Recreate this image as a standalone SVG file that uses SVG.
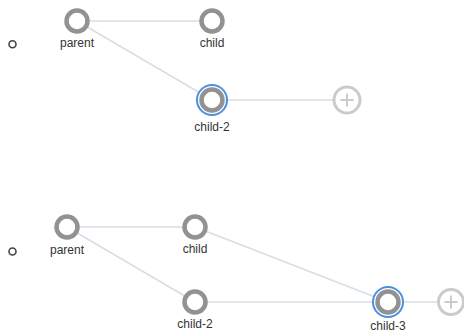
<svg xmlns="http://www.w3.org/2000/svg" width="464" height="332" viewBox="0 0 464 332">
<style>
.edge{stroke:#d6dee6;stroke-width:1.5;fill:none}
.ring{fill:#fff;stroke:#929292;stroke-width:4.5}
.sel{fill:#fff;stroke:#4a90e2;stroke-width:2}
.dot{fill:#fff;stroke:#444;stroke-width:1.6}
.add{fill:#fff;stroke:#cbcbcb;stroke-width:3}
.plus{stroke:#cbcbcb;stroke-width:2;fill:none}
.lbl{font-family:"Liberation Sans",Arial,sans-serif;font-size:12px;fill:#333;text-anchor:middle}
</style>
<rect width="464" height="332" fill="#fff"/>
<g id="connectors">
<line class="edge" x1="77" y1="21" x2="212" y2="21"/>
<line class="edge" x1="77" y1="21" x2="212" y2="100"/>
<line class="edge" x1="212" y1="100" x2="347" y2="100"/>
<line class="edge" x1="67" y1="227" x2="195" y2="227"/>
<line class="edge" x1="67" y1="227" x2="195" y2="302"/>
<line class="edge" x1="195" y1="227" x2="388" y2="302"/>
<line class="edge" x1="195" y1="302" x2="388" y2="302"/>
<line class="edge" x1="388" y1="302" x2="451" y2="302"/>
</g>
<g id="root-1"><circle class="dot" cx="12.5" cy="44.3" r="3.5"/></g>
<g id="parent-1"><circle class="ring" cx="77" cy="21" r="10.5"/><text class="lbl" x="77" y="47">parent</text></g>
<g id="child-1"><circle class="ring" cx="212" cy="21" r="10.5"/><text class="lbl" x="212" y="47">child</text></g>
<g id="child2-1"><circle class="sel" cx="212" cy="100" r="15"/><circle class="ring" cx="212" cy="100" r="10.5"/><text class="lbl" x="212" y="131">child-2</text></g>
<g id="add-1"><circle class="add" cx="347" cy="100" r="13"/><path class="plus" d="M340.5 100H353.5M347 93.5V106.5"/></g>
<g id="root-2"><circle class="dot" cx="12.5" cy="251.5" r="3.5"/></g>
<g id="parent-2"><circle class="ring" cx="67" cy="227" r="10.5"/><text class="lbl" x="67" y="254">parent</text></g>
<g id="child-2"><circle class="ring" cx="195" cy="227" r="10.5"/><text class="lbl" x="195" y="253">child</text></g>
<g id="child2-2"><circle class="ring" cx="195" cy="302" r="10.5"/><text class="lbl" x="195" y="328">child-2</text></g>
<g id="child3-2"><circle class="sel" cx="388" cy="302" r="15"/><circle class="ring" cx="388" cy="302" r="10.5"/><text class="lbl" x="388" y="330">child-3</text></g>
<g id="add-2"><circle class="add" cx="451" cy="302" r="12.5"/><path class="plus" d="M444.5 302H457.5M451 295.5V308.5"/></g>
</svg>
